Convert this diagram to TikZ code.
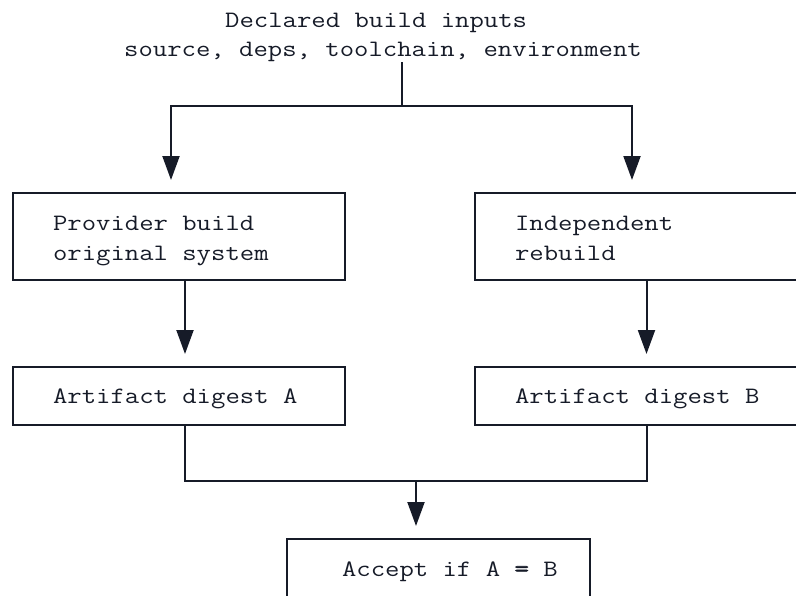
\documentclass[tikz,border=0pt]{standalone}
\usepackage{fontspec}
\setmonofont[FakeStretch=1.188]{Latin Modern Mono}
\newfontfamily\eqfont[FakeStretch=1.188,FakeBold=2.5]{Latin Modern Mono}
\usetikzlibrary{arrows.meta}
\definecolor{ink}{RGB}{22,27,40}
\begin{document}
\begin{tikzpicture}[x=1pt, y=-1pt,
  txt/.style={font=\ttfamily\fontsize{23.5}{29.5}\selectfont, text=ink},
  label/.style={txt, inner sep=0pt, anchor=base west},
  box/.style={txt, draw=ink, line width=2pt, rectangle, anchor=north west,
    align=left, inner ysep=0pt,
    execute at begin node={\spaceskip=0pt\xspaceskip=0pt}},
  twoline/.style={box, minimum width=332pt, minimum height=87pt,
    text width=252pt, inner xsep=40pt, text height=14pt, text depth=26pt},
  oneline/.style={box, minimum width=332pt, minimum height=58pt,
    text width=252pt, inner xsep=40pt, text height=14pt, text depth=0pt},
  wire/.style={draw=ink, line width=2pt},
  flow/.style={wire, -{Triangle[length=24pt,width=17pt]}, shorten >=12pt}]
\useasboundingbox (0,0) rectangle (796,595);
\clip (0,0) rectangle (796,595);

% header text
\node[label] (in1) at (225,27.3) {Declared build inputs};
\node[label] (in2) at (124,56.8) {source, deps, toolchain, environment};

% process boxes
\node[twoline] (prov)  at (12,192)  {Provider build\\original system};
\node[twoline] (indep) at (474,192) {Independent\\rebuild};
\node[oneline] (digA)  at (12,366)  {Artifact digest A};
\node[oneline] (digB)  at (474,366) {Artifact digest B};
\node[box, minimum width=303pt, minimum height=60pt, text width=193pt,
  inner xsep=55pt, text height=14pt, text depth=0pt]
  (accept) at (286,538) {\mbox{Accept if A {\eqfont=} B}};

% connector columns and junctions
\coordinate (split) at (402,106);
\coordinate (join) at (416,481);
\coordinate (inL) at (171,0);
\coordinate (inR) at (632,0);
\coordinate (outL) at (185,0);
\coordinate (outR) at (646.5,0);

% connectors
\draw[wire] (in2.south -| split) -- (split);
\draw[flow] (split) -| (prov.north -| inL);
\draw[flow] (split) -| (indep.north -| inR);
\draw[flow] (prov.south -| outL) -- (digA.north -| outL);
\draw[flow] (indep.south -| outR) -- (digB.north -| outR);
\draw[wire] (digA.south -| outL) |- (join) -| (digB.south -| outR);
\draw[flow] (join) -- (accept.north -| join);
\end{tikzpicture}
\end{document}
